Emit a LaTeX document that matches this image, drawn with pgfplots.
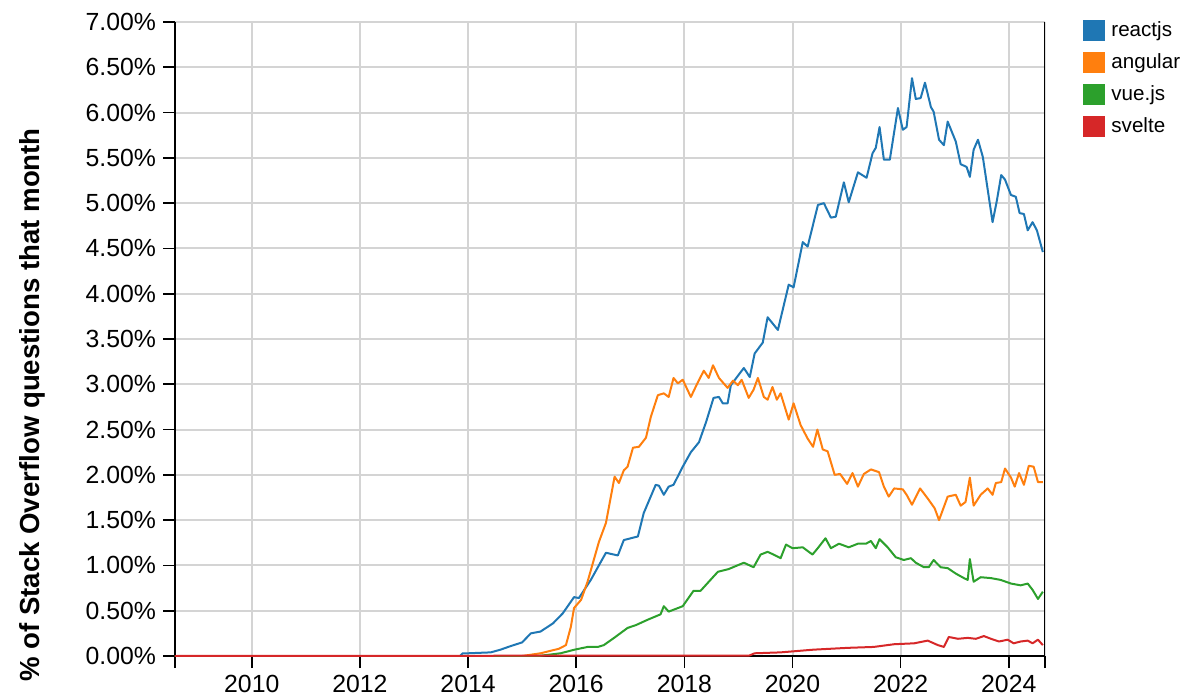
\documentclass[border=0pt]{standalone}
\usepackage{fontspec}
\setmainfont{Liberation Sans}
\usepackage{pgfplots}
\pgfplotsset{compat=1.18}
\definecolor{cReact}{HTML}{1F77B4}
\definecolor{cAngular}{HTML}{FF7F0E}
\definecolor{cVue}{HTML}{2CA02C}
\definecolor{cSvelte}{HTML}{D62728}
\definecolor{gridc}{HTML}{D4D4D4}
\begin{document}
\begin{tikzpicture}
\begin{axis}[
  at={(0,0)}, anchor=south west,
  scale only axis, width=435pt, height=317pt,
  xmin=2008.58, xmax=2024.67, ymin=0, ymax=7,
  axis lines*=left,
  axis line style={black, line width=1pt},
  xtick={2010,2012,...,2024},
  ytick={0,0.5,...,7},
  extra x ticks={2008.58,2024.67},
  extra x tick labels={},
  extra x tick style={grid=none},
  grid=major,
  major grid style={gridc, line width=1pt},
  tick align=outside,
  major tick length=6pt,
  tick style={black, line width=0.8pt},
  /pgf/number format/assume math mode=true,
  /pgf/number format/1000 sep={},
  scaled y ticks=false,
  yticklabel={\pgfmathprintnumber[fixed,fixed zerofill,precision=2]{\tick}\%},
  xticklabel={\pgfmathprintnumber[1000 sep={}]{\tick}},
  tick label style={font=\fontsize{12.4}{14}\selectfont, black},
  ylabel={\% of Stack Overflow questions that month},
  every axis y label/.style={at={(axis description cs:0,0.396)}, xshift=-71.5pt, rotate=90, anchor=center, font=\fontsize{13.8}{16}\selectfont\bfseries},
  no markers,
  every axis plot/.append style={line width=1pt, line join=round},
  legend image code/.code={\fill[#1, draw=none] (0pt,-5.25pt) rectangle (11pt,5.25pt);},
  legend style={at={(axis description cs:1,1)}, anchor=north west, xshift=19pt, yshift=2.5pt,
    draw=none, fill=none, inner sep=0pt, font=\fontsize{10.3}{12}\selectfont,
    row sep=3.1pt, cells={anchor=west},
    /tikz/every odd column/.append style={column sep=1pt}},
]
\addplot[color=cReact] coordinates {
(2008.58,0) (2013.85,0) (2013.9,0.03) (2014.0,0.03) (2014.42,0.04) (2014.6,0.07) (2014.79,0.11)
(2015.0,0.15) (2015.16,0.25) (2015.34,0.27) (2015.57,0.36) (2015.75,0.47) (2015.96,0.65)
(2016.05,0.64) (2016.27,0.84) (2016.40,0.98) (2016.55,1.14) (2016.77,1.11) (2016.88,1.28)
(2017.14,1.32) (2017.25,1.58) (2017.47,1.89) (2017.53,1.88) (2017.62,1.78) (2017.71,1.87)
(2017.80,1.89) (2017.97,2.09) (2018.12,2.25) (2018.27,2.36) (2018.40,2.58) (2018.54,2.85)
(2018.64,2.86) (2018.71,2.79) (2018.80,2.79) (2018.86,2.99) (2019.10,3.18) (2019.21,3.08)
(2019.30,3.34) (2019.45,3.46) (2019.54,3.74) (2019.73,3.60) (2019.93,4.10) (2020.02,4.07)
(2020.19,4.57) (2020.28,4.52) (2020.47,4.98) (2020.58,5.00) (2020.71,4.84) (2020.80,4.85)
(2020.95,5.23) (2021.04,5.01) (2021.21,5.34) (2021.37,5.28) (2021.48,5.55) (2021.54,5.61)
(2021.61,5.84) (2021.69,5.48) (2021.80,5.48) (2021.95,6.05) (2022.04,5.81) (2022.11,5.84)
(2022.21,6.38) (2022.28,6.15) (2022.37,6.16) (2022.45,6.33) (2022.56,6.06) (2022.61,6.01)
(2022.71,5.70) (2022.80,5.64) (2022.87,5.90) (2023.02,5.68) (2023.11,5.43) (2023.22,5.40)
(2023.28,5.29) (2023.35,5.59) (2023.43,5.70) (2023.52,5.51) (2023.61,5.15) (2023.70,4.79)
(2023.78,5.03) (2023.86,5.31) (2023.93,5.26) (2024.04,5.09) (2024.13,5.07) (2024.20,4.89)
(2024.28,4.88) (2024.35,4.70) (2024.44,4.79) (2024.52,4.70) (2024.63,4.46)
};
\addlegendentry{reactjs}
\addplot[color=cAngular] coordinates {
(2008.58,0) (2015.0,0) (2015.34,0.03) (2015.68,0.08) (2015.81,0.12) (2015.90,0.32) (2015.96,0.53)
(2016.09,0.62) (2016.21,0.82) (2016.31,1.03) (2016.42,1.26) (2016.55,1.47) (2016.71,1.98)
(2016.79,1.91) (2016.88,2.05) (2016.95,2.09) (2017.05,2.30) (2017.16,2.31) (2017.29,2.41)
(2017.38,2.64) (2017.51,2.88) (2017.62,2.90) (2017.71,2.86) (2017.80,3.07) (2017.88,3.01)
(2017.97,3.05) (2018.12,2.86) (2018.24,3.01) (2018.36,3.15) (2018.45,3.07) (2018.53,3.21)
(2018.64,3.07) (2018.80,2.96) (2018.90,3.04) (2018.99,2.99) (2019.06,3.05) (2019.19,2.85)
(2019.28,2.94) (2019.36,3.07) (2019.47,2.86) (2019.54,2.83) (2019.63,2.97) (2019.71,2.83)
(2019.78,2.90) (2019.93,2.61) (2020.02,2.79) (2020.15,2.55) (2020.28,2.40) (2020.38,2.31)
(2020.46,2.50) (2020.56,2.28) (2020.65,2.26) (2020.78,2.00) (2020.88,2.01) (2021.01,1.90)
(2021.11,2.02) (2021.21,1.87) (2021.32,2.01) (2021.45,2.06) (2021.60,2.03) (2021.69,1.87)
(2021.78,1.76) (2021.88,1.85) (2022.04,1.84) (2022.11,1.78) (2022.21,1.67) (2022.36,1.85)
(2022.50,1.74) (2022.63,1.63) (2022.71,1.50) (2022.87,1.76) (2023.02,1.78) (2023.11,1.66)
(2023.20,1.70) (2023.28,1.97) (2023.35,1.66) (2023.48,1.78) (2023.61,1.85) (2023.70,1.78)
(2023.76,1.91) (2023.86,1.92) (2023.93,2.07) (2024.04,1.97) (2024.11,1.87) (2024.19,2.02)
(2024.28,1.89) (2024.37,2.10) (2024.46,2.09) (2024.54,1.92) (2024.63,1.92)
};
\addlegendentry{angular}
\addplot[color=cVue] coordinates {
(2008.58,0) (2015.3,0) (2015.71,0.03) (2015.97,0.07) (2016.21,0.10) (2016.40,0.10) (2016.51,0.12)
(2016.70,0.20) (2016.95,0.31) (2017.10,0.34) (2017.32,0.40) (2017.56,0.46) (2017.62,0.55)
(2017.71,0.49) (2017.97,0.55) (2018.17,0.72) (2018.30,0.72) (2018.62,0.93) (2018.82,0.96)
(2019.10,1.03) (2019.28,0.98) (2019.41,1.12) (2019.54,1.15) (2019.65,1.12) (2019.78,1.08)
(2019.88,1.23) (2020.00,1.19) (2020.19,1.20) (2020.37,1.12) (2020.48,1.20) (2020.61,1.30)
(2020.71,1.19) (2020.86,1.24) (2021.04,1.20) (2021.21,1.24) (2021.36,1.24) (2021.45,1.27)
(2021.54,1.19) (2021.61,1.29) (2021.76,1.20) (2021.91,1.09) (2022.06,1.06) (2022.19,1.08)
(2022.28,1.03) (2022.43,0.98) (2022.52,0.98) (2022.61,1.06) (2022.74,0.98) (2022.87,0.97)
(2023.02,0.91) (2023.17,0.86) (2023.24,0.84) (2023.28,1.07) (2023.35,0.82) (2023.48,0.87)
(2023.67,0.86) (2023.85,0.84) (2024.04,0.80) (2024.22,0.78) (2024.35,0.80) (2024.44,0.73)
(2024.54,0.63) (2024.63,0.71)
};
\addlegendentry{vue.js}
\addplot[color=cSvelte] coordinates {
(2008.58,0) (2019.2,0.005) (2019.3,0.03) (2019.78,0.04) (2020.39,0.07) (2021.02,0.09)
(2021.50,0.10) (2021.88,0.13) (2022.25,0.14) (2022.50,0.17) (2022.69,0.12) (2022.80,0.10)
(2022.89,0.21) (2023.06,0.19) (2023.24,0.20) (2023.39,0.19) (2023.54,0.22) (2023.67,0.19)
(2023.82,0.16) (2023.98,0.18) (2024.09,0.14) (2024.22,0.16) (2024.35,0.17) (2024.44,0.14)
(2024.54,0.18) (2024.63,0.12)
};
\addlegendentry{svelte}
\draw[black, line width=1pt] (rel axis cs:1,0) -- (rel axis cs:1,1);
\end{axis}
\pgfresetboundingbox
\path (-87.5pt,-19.5pt) rectangle (511pt,328pt);
\end{tikzpicture}
\end{document}
